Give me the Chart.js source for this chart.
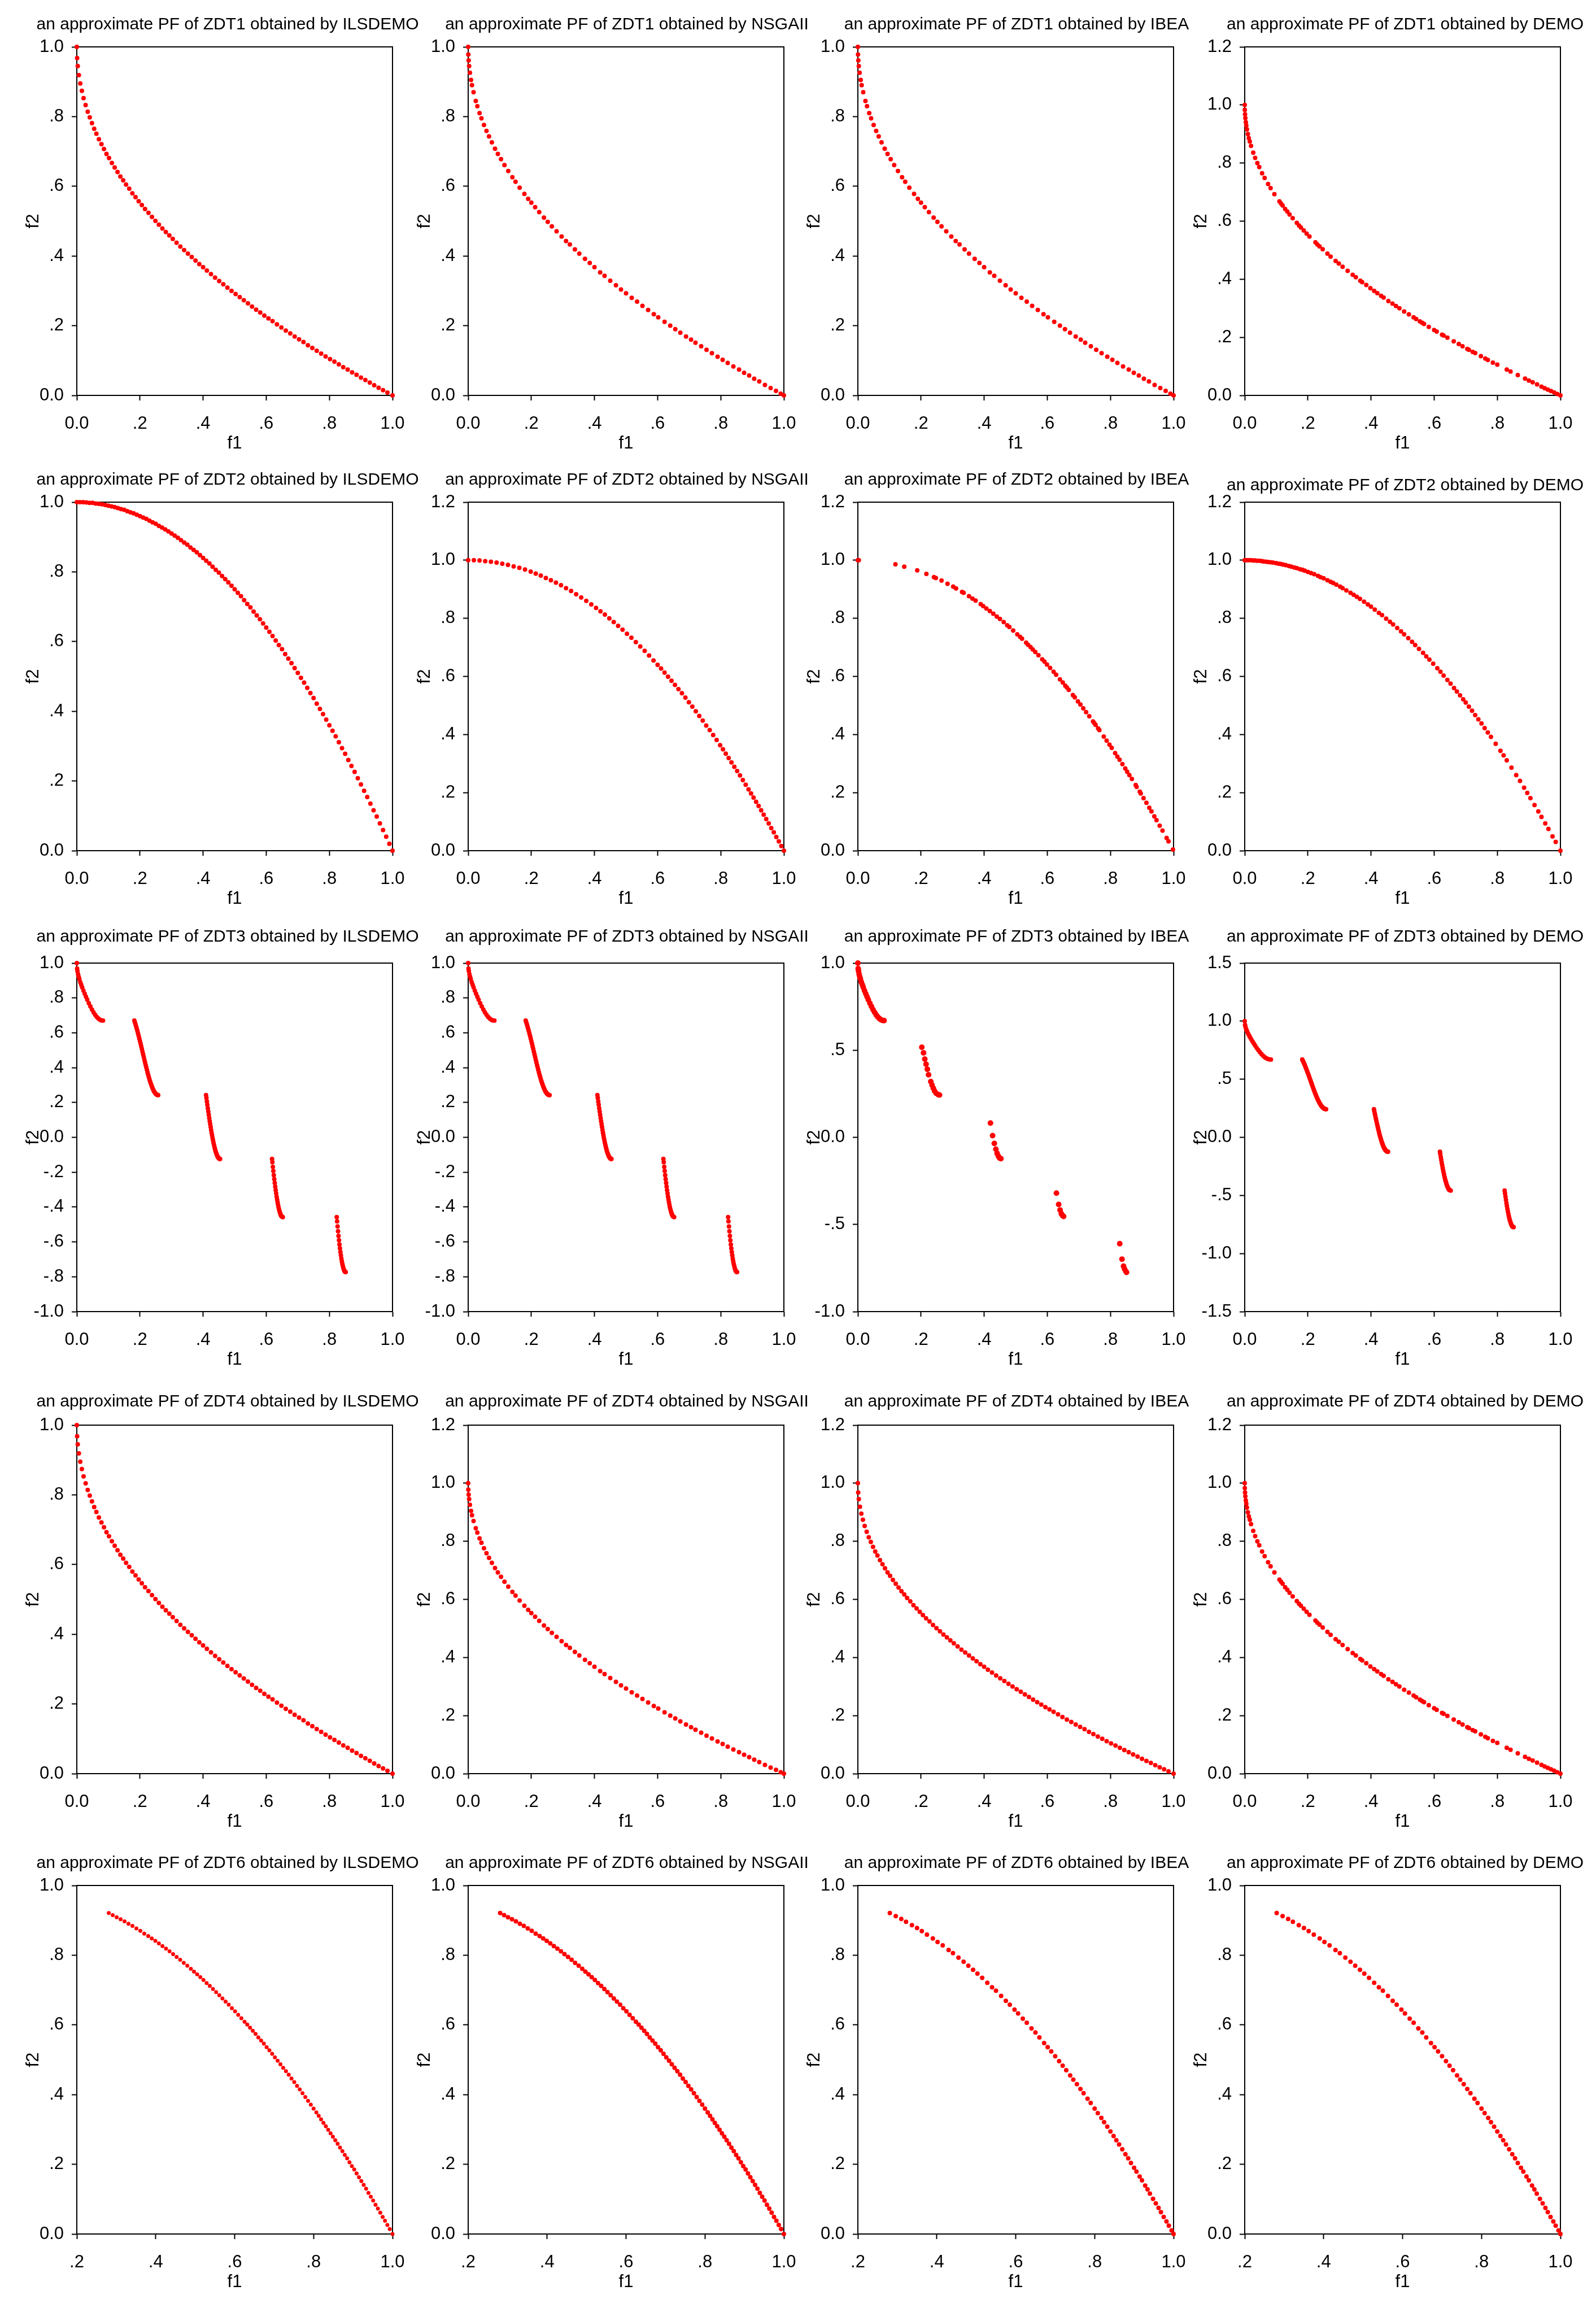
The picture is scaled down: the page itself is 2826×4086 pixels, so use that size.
<!DOCTYPE html>
<html>
<head>
<meta charset="utf-8">
<title>Approximate Pareto fronts of ZDT problems</title>
<script src="https://cdn.jsdelivr.net/npm/chart.js@4.4.1/dist/chart.umd.min.js"></script>
<style>
  body { margin: 0; background: #fff; }
  #page { position: relative; width: 2826px; height: 4086px; background: #fff; }
  #page canvas { position: absolute; }
</style>
</head>
<body>
<div id="page"></div>
<script>
// ---------- data ----------
const algorithms = ["ILSDEMO", "NSGAII", "IBEA", "DEMO"];
const problems = ["ZDT1", "ZDT2", "ZDT3", "ZDT4", "ZDT6"];

// convex front (ZDT1 / ZDT4)
const zdt1IlsF1 = [0, .001, .003, .0065, .011, .016, .0215, .028, .0345, .041, .048, .055, .062, .07, .078, .086, .094, .102, .111, .12, .129, .138, .147, .156, .166, .176, .186, .196, .206, .216, .227, .238, .249, .26, .271, .282, .293, .304, .316, .328, .34, .352, .364, .376, .388, .4, .412, .425, .438, .451, .464, .477, .49, .503, .516, .529, .542, .555, .568, .581, .594, .607, .62, .634, .648, .662, .676, .69, .704, .718, .732, .746, .76, .774, .788, .802, .816, .83, .844, .858, .872, .886, .9, .914, .928, .942, .956, .97, .984, 1];
const zdt1IlsF2 = [1, .968, .945, .919, .895, .874, .853, .833, .814, .798, .781, .765, .751, .735, .721, .707, .693, .681, .667, .654, .641, .628, .617, .605, .593, .580, .569, .557, .546, .535, .524, .512, .501, .490, .479, .469, .459, .449, .438, .427, .417, .407, .397, .387, .377, .368, .358, .348, .338, .328, .319, .309, .300, .291, .282, .273, .264, .255, .246, .238, .229, .221, .213, .204, .195, .186, .178, .169, .161, .153, .144, .136, .128, .120, .112, .104, .097, .089, .081, .074, .066, .059, .051, .044, .037, .029, .022, .015, .008, 0];

const zdt1NsgaF1 = [0, .0005, .0015, .003, .0055, .009, .012, .017, .024, .029, .036, .042, .05, .058, .066, .075, .085, .094, .104, .115, .127, .14, .15, .163, .178, .19, .2, .212, .225, .24, .252, .265, .28, .296, .31, .322, .338, .352, .37, .385, .4, .418, .432, .45, .468, .484, .5, .518, .535, .552, .57, .588, .602, .622, .64, .656, .672, .69, .706, .72, .738, .755, .772, .79, .806, .822, .84, .858, .874, .89, .906, .922, .94, .958, .975, .99, 1];
const zdt1NsgaF2 = [1, .978, .961, .945, .926, .905, .890, .870, .845, .830, .810, .795, .776, .759, .743, .726, .708, .693, .678, .661, .644, .626, .613, .596, .578, .564, .553, .540, .526, .510, .498, .485, .471, .456, .443, .433, .419, .407, .392, .380, .368, .353, .343, .329, .316, .304, .293, .280, .269, .257, .245, .233, .224, .211, .200, .190, .180, .169, .160, .151, .141, .131, .121, .111, .102, .093, .083, .074, .065, .057, .048, .040, .030, .021, .013, .005, 0];

const zdt1DemoF1 = [0, .0003, .001, .002, .0035, .005, .007, .01, .013, .016, .02, .027, .033, .04, .046, .055, .063, .074, .082, .094, .11, .115, .12, .128, .135, .142, .152, .165, .172, .178, .187, .196, .205, .224, .23, .237, .247, .262, .272, .288, .298, .31, .326, .342, .352, .366, .372, .385, .398, .41, .42, .432, .44, .455, .468, .479, .49, .505, .52, .535, .543, .555, .562, .568, .583, .6, .608, .625, .63, .642, .662, .678, .69, .705, .71, .722, .73, .748, .762, .77, .786, .8, .83, .842, .865, .888, .9, .912, .926, .94, .95, .96, .97, .98, .99, 1];
const zdt1DemoF2 = [1, .983, .968, .955, .941, .929, .916, .900, .886, .874, .859, .836, .818, .800, .786, .765, .749, .728, .714, .693, .668, .661, .654, .642, .633, .623, .610, .594, .585, .578, .568, .557, .547, .527, .520, .513, .503, .488, .478, .463, .454, .443, .429, .415, .407, .395, .390, .380, .369, .360, .352, .343, .337, .325, .316, .308, .300, .289, .279, .269, .263, .255, .250, .246, .236, .225, .220, .209, .206, .199, .186, .177, .169, .160, .157, .150, .146, .135, .127, .122, .113, .106, .089, .082, .070, .058, .051, .045, .038, .030, .025, .020, .015, .010, .005, 0];

// concave front (ZDT2)
const zdt2IlsF1 = [0, .01, .02, .03, .04, .05, .06, .07, .08, .09, .1, .11, .12, .13, .14, .15, .16, .17, .18, .19, .2, .21, .22, .23, .24, .25, .26, .27, .28, .29, .3, .31, .32, .33, .34, .35, .36, .37, .38, .39, .4, .41, .42, .43, .44, .45, .46, .47, .48, .49, .5, .51, .52, .53, .54, .55, .56, .57, .58, .59, .6, .61, .62, .63, .64, .65, .66, .67, .68, .69, .7, .71, .72, .73, .74, .75, .76, .77, .78, .79, .8, .81, .82, .83, .84, .85, .86, .87, .88, .89, .9, .91, .92, .93, .94, .95, .96, .97, .98, .99, 1];
const zdt2IlsF2 = [1, 1, 1, .999, .998, .998, .996, .995, .994, .992, .990, .988, .986, .983, .980, .978, .974, .971, .968, .964, .960, .956, .952, .947, .942, .938, .932, .927, .922, .916, .910, .904, .898, .891, .884, .878, .870, .863, .856, .848, .840, .832, .824, .815, .806, .798, .788, .779, .770, .760, .750, .740, .730, .719, .708, .698, .686, .675, .664, .652, .640, .628, .616, .603, .590, .578, .564, .551, .538, .524, .510, .496, .482, .467, .452, .438, .422, .407, .392, .376, .360, .344, .328, .311, .294, .278, .260, .243, .226, .208, .190, .172, .154, .135, .116, .098, .078, .059, .040, .020, 0];

const zdt2NsgaF1 = [0, .018, .036, .054, .072, .09, .108, .126, .144, .162, .18, .198, .214, .23, .246, .262, .278, .294, .31, .326, .342, .358, .374, .39, .405, .419, .433, .447, .461, .475, .489, .503, .517, .531, .545, .559, .573, .587, .6, .611, .622, .633, .644, .655, .666, .677, .688, .699, .71, .721, .732, .743, .754, .765, .776, .787, .798, .807, .816, .825, .834, .843, .852, .861, .87, .879, .888, .896, .904, .912, .92, .928, .936, .944, .952, .96, .968, .976, .984, .992, 1];
const zdt2NsgaF2 = [1, 1, .999, .997, .995, .992, .988, .984, .979, .974, .968, .961, .954, .947, .939, .931, .923, .914, .904, .894, .883, .872, .860, .848, .836, .824, .813, .800, .787, .774, .761, .747, .733, .718, .703, .688, .672, .655, .640, .627, .613, .599, .585, .571, .556, .542, .527, .511, .496, .480, .464, .448, .431, .415, .398, .381, .363, .349, .334, .319, .304, .289, .274, .259, .243, .227, .211, .197, .183, .168, .154, .139, .124, .109, .094, .078, .063, .047, .032, .016, 0];

const zdt2IbeaF1 = [0, .003, .119, .147, .188, .217, .241, .247, .265, .284, .302, .311, .33, .335, .352, .363, .373, .389, .397, .407, .418, .429, .44, .45, .462, .473, .48, .492, .505, .514, .52, .533, .539, .547, .554, .562, .572, .584, .591, .599, .609, .62, .628, .64, .649, .657, .662, .668, .681, .687, .697, .705, .714, .723, .733, .745, .749, .753, .761, .765, .779, .788, .797, .804, .815, .822, .829, .838, .847, .853, .86, .868, .88, .883, .893, .896, .905, .914, .923, .93, .939, .946, .956, .965, .978, .984, .998];
const zdt2IbeaF2 = [1, 1, .986, .978, .965, .953, .942, .939, .930, .919, .909, .903, .891, .888, .876, .868, .861, .849, .842, .834, .825, .816, .806, .798, .787, .776, .770, .758, .745, .736, .730, .716, .709, .701, .693, .684, .673, .659, .651, .641, .629, .616, .606, .590, .579, .568, .562, .554, .536, .528, .514, .503, .490, .477, .463, .445, .439, .433, .421, .415, .393, .379, .365, .354, .336, .324, .313, .298, .283, .272, .260, .247, .226, .220, .203, .197, .181, .165, .148, .135, .118, .105, .086, .069, .044, .032, .004];

const zdt2DemoF1 = [0, .005, .012, .02, .027, .033, .04, .048, .055, .06, .068, .075, .083, .09, .1, .108, .115, .122, .13, .14, .148, .157, .165, .175, .183, .19, .2, .21, .22, .232, .24, .25, .262, .272, .28, .29, .302, .31, .322, .335, .345, .355, .365, .378, .39, .4, .412, .425, .435, .448, .46, .47, .483, .495, .505, .518, .53, .54, .552, .565, .575, .585, .597, .61, .62, .63, .642, .652, .663, .672, .682, .692, .7, .71, .72, .73, .74, .75, .76, .77, .78, .795, .81, .82, .83, .845, .86, .872, .885, .895, .905, .918, .93, .94, .952, .962, .975, .985, 1];
const zdt2DemoF2 = [1, 1, 1, 1, .999, .999, .998, .998, .997, .996, .995, .994, .993, .992, .990, .988, .987, .985, .983, .980, .978, .975, .973, .969, .967, .964, .960, .956, .952, .946, .942, .938, .931, .926, .922, .916, .909, .904, .896, .888, .881, .874, .867, .857, .848, .840, .830, .819, .811, .799, .788, .779, .767, .755, .745, .732, .719, .708, .695, .681, .669, .658, .644, .628, .616, .603, .588, .575, .560, .548, .535, .521, .510, .496, .482, .467, .452, .438, .422, .407, .392, .368, .344, .328, .311, .286, .260, .240, .217, .199, .181, .157, .135, .116, .094, .075, .049, .030, 0];

// disconnected front (ZDT3), five pieces
const zdt3IlsF1 = [0, .001, .002, .004, .006, .008, .011, .014, .017, .021, .025, .029, .033, .038, .043, .048, .053, .058, .063, .068, .073, .078, .083,
  .1822, .184, .186, .188, .19, .192, .194, .196, .198, .2, .202, .204, .206, .208, .21, .212, .214, .216, .218, .22, .222, .224, .226, .228, .23, .232, .234, .236, .238, .24, .242, .244, .246, .248, .25, .252, .254, .256, .2578,
  .4093, .4105, .412, .4135, .415, .4165, .418, .4195, .421, .4225, .424, .4255, .427, .4285, .43, .4315, .433, .4345, .436, .4375, .439, .4405, .442, .4435, .445, .4465, .448, .4495, .451, .4525, .4539,
  .6184, .6195, .621, .6225, .624, .6255, .627, .6285, .63, .6315, .633, .6345, .636, .6375, .639, .6405, .642, .6435, .645, .6465, .648, .6495, .6525,
  .8233, .8245, .826, .8275, .829, .8305, .832, .8335, .835, .8365, .838, .8395, .841, .8425, .844, .8455, .847, .8485, .85, .8518];
const zdt3IlsF2 = [1, .968, .955, .936, .921, .909, .891, .876, .861, .842, .824, .807, .790, .770, .751, .733, .717, .703, .691, .682, .675, .671, .670,
  .670, .660, .648, .636, .623, .610, .596, .582, .567, .553, .538, .523, .508, .492, .477, .462, .446, .431, .416, .402, .387, .373, .360, .347, .334, .322, .311, .301, .291, .282, .274, .266, .260, .255, .250, .247, .244, .243, .242,
  .242, .226, .206, .187, .167, .148, .130, .111, .093, .076, .059, .042, .026, .011, -.004, -.017, -.031, -.043, -.055, -.066, -.076, -.085, -.093, -.100, -.107, -.112, -.116, -.120, -.122, -.124, -.124,
  -.124, -.143, -.169, -.193, -.217, -.240, -.262, -.283, -.303, -.322, -.341, -.357, -.373, -.387, -.401, -.413, -.423, -.432, -.440, -.447, -.452, -.455, -.458,
  -.458, -.482, -.511, -.539, -.566, -.591, -.615, -.637, -.658, -.677, -.695, -.711, -.725, -.737, -.748, -.757, -.764, -.769, -.772, -.773];

const zdt3IbeaF1 = [0, .001, .002, .004, .006, .008, .011, .014, .017, .021, .025, .029, .033, .038, .043, .048, .053, .058, .063, .068, .073, .078, .083,
  .2026, .208, .212, .216, .22, .224, .231, .235, .239, .243, .248, .255, .2586,
  .42, .4268, .4323, .4371, .441, .445, .449, .453,
  .629, .636, .6405, .6445, .6485, .6517,
  .8295, .8367, .8415, .8447, .8487, .851];
const zdt3IbeaF2 = [1, .968, .955, .936, .921, .909, .891, .876, .861, .842, .824, .807, .790, .770, .751, .733, .717, .703, .691, .682, .675, .671, .670,
  .517, .485, .449, .420, .391, .359, .320, .300, .282, .266, .253, .245, .243,
  .082, .010, -.035, -.068, -.092, -.108, -.119, -.122,
  -.320, -.385, -.417, -.438, -.449, -.454,
  -.610, -.699, -.739, -.755, -.768, -.775];

// non-uniform concave front (ZDT6)
const zdt6IlsF1 = [.281, .291, .301, .311, .321, .331, .341, .351, .361, .371, .381, .39, .399, .408, .417, .426, .435, .444, .453, .462, .471, .48, .489, .497, .505, .513, .521, .529, .537, .545, .553, .561, .569, .577, .585, .593, .601, .609, .617, .625, .632, .639, .646, .653, .66, .667, .674, .681, .688, .695, .702, .709, .716, .723, .73, .737, .744, .751, .758, .765, .772, .779, .786, .793, .8, .807, .813, .819, .825, .831, .837, .843, .849, .855, .861, .867, .873, .879, .885, .891, .897, .903, .909, .915, .921, .927, .933, .939, .945, .951, .957, .963, .969, .975, .981, .987, .993, 1];
const zdt6IlsF2 = [.921, .915, .909, .903, .897, .890, .884, .877, .870, .862, .855, .848, .841, .834, .826, .819, .811, .803, .795, .787, .778, .770, .761, .753, .745, .737, .729, .720, .712, .703, .694, .685, .676, .667, .658, .648, .639, .629, .619, .609, .601, .592, .583, .574, .564, .555, .546, .536, .527, .517, .507, .497, .487, .477, .467, .457, .446, .436, .425, .415, .404, .393, .382, .371, .360, .349, .339, .329, .319, .309, .299, .289, .279, .269, .259, .248, .238, .227, .217, .206, .195, .185, .174, .163, .152, .141, .130, .118, .107, .096, .084, .073, .061, .049, .038, .026, .014, 0];

const zdt6IbeaF1 = [.281, .296, .31, .322, .337, .35, .362, .375, .39, .402, .415, .43, .441, .455, .468, .48, .492, .503, .515, .528, .54, .55, .563, .575, .585, .597, .606, .618, .628, .64, .65, .66, .672, .681, .69, .7, .71, .719, .728, .738, .746, .755, .764, .772, .782, .79, .8, .808, .817, .824, .832, .84, .848, .855, .862, .87, .878, .885, .892, .9, .906, .914, .92, .928, .934, .94, .948, .955, .962, .968, .975, .982, .988, .995, 1];
const zdt6IbeaF2 = [.921, .912, .904, .896, .886, .878, .869, .859, .848, .838, .828, .815, .806, .793, .781, .770, .758, .747, .735, .721, .708, .698, .683, .669, .658, .644, .633, .618, .606, .590, .578, .564, .548, .536, .524, .510, .496, .483, .470, .455, .443, .430, .416, .404, .388, .376, .360, .347, .333, .321, .308, .294, .281, .269, .257, .243, .229, .217, .204, .190, .179, .165, .154, .139, .128, .116, .101, .088, .075, .063, .049, .036, .024, .010, 0];

// ---------- tick values and labels ----------
const ticksUnit = [0, .2, .4, .6, .8, 1];
const labelsUnit = ["0.0", ".2", ".4", ".6", ".8", "1.0"];
const ticksTall = [0, .2, .4, .6, .8, 1, 1.2];
const labelsTall = ["0.0", ".2", ".4", ".6", ".8", "1.0", "1.2"];
const ticksSigned = [-1, -.8, -.6, -.4, -.2, 0, .2, .4, .6, .8, 1];
const labelsSigned = ["-1.0", "-.8", "-.6", "-.4", "-.2", "0.0", ".2", ".4", ".6", ".8", "1.0"];
const ticksHalf = [-1, -.5, 0, .5, 1];
const labelsHalf = ["-1.0", "-.5", "0.0", ".5", "1.0"];
const ticksWide = [-1.5, -1, -.5, 0, .5, 1, 1.5];
const labelsWide = ["-1.5", "-1.0", "-.5", "0.0", ".5", "1.0", "1.5"];
const ticksZdt6X = [.2, .4, .6, .8, 1];
const labelsZdt6X = [".2", ".4", ".6", ".8", "1.0"];

const tickSets = {
  unit: { values: ticksUnit, labels: labelsUnit },
  tall: { values: ticksTall, labels: labelsTall },
  signed: { values: ticksSigned, labels: labelsSigned },
  half: { values: ticksHalf, labels: labelsHalf },
  wide: { values: ticksWide, labels: labelsWide },
  zdt6x: { values: ticksZdt6X, labels: labelsZdt6X }
};

// one entry per panel, row by row
const panels = [
  { f1: zdt1IlsF1, f2: zdt1IlsF2, x: "unit", y: "unit" },
  { f1: zdt1NsgaF1, f2: zdt1NsgaF2, x: "unit", y: "unit" },
  { f1: zdt1NsgaF1, f2: zdt1NsgaF2, x: "unit", y: "unit" },
  { f1: zdt1DemoF1, f2: zdt1DemoF2, x: "unit", y: "tall" },

  { f1: zdt2IlsF1, f2: zdt2IlsF2, x: "unit", y: "unit" },
  { f1: zdt2NsgaF1, f2: zdt2NsgaF2, x: "unit", y: "tall" },
  { f1: zdt2IbeaF1, f2: zdt2IbeaF2, x: "unit", y: "tall" },
  { f1: zdt2DemoF1, f2: zdt2DemoF2, x: "unit", y: "tall" },

  { f1: zdt3IlsF1, f2: zdt3IlsF2, x: "unit", y: "signed" },
  { f1: zdt3IlsF1, f2: zdt3IlsF2, x: "unit", y: "signed" },
  { f1: zdt3IbeaF1, f2: zdt3IbeaF2, x: "unit", y: "half", r: 5 },
  { f1: zdt3IlsF1, f2: zdt3IlsF2, x: "unit", y: "wide" },

  { f1: zdt1IlsF1, f2: zdt1IlsF2, x: "unit", y: "unit" },
  { f1: zdt1NsgaF1, f2: zdt1NsgaF2, x: "unit", y: "tall" },
  { f1: zdt1IlsF1, f2: zdt1IlsF2, x: "unit", y: "tall" },
  { f1: zdt1DemoF1, f2: zdt1DemoF2, x: "unit", y: "tall" },

  { f1: zdt6IlsF1, f2: zdt6IlsF2, x: "zdt6x", y: "unit", r: 3.5 },
  { f1: zdt6IlsF1, f2: zdt6IlsF2, x: "zdt6x", y: "unit" },
  { f1: zdt6IbeaF1, f2: zdt6IbeaF2, x: "zdt6x", y: "unit" },
  { f1: zdt6IbeaF1, f2: zdt6IbeaF2, x: "zdt6x", y: "unit" }
];

// ---------- layout ----------
const plotLefts = [136, 829, 1519, 2204];
const plotTops = [83, 889, 1705, 2523, 3338];
const PLOT_W = 559, PLOT_H = 617;
const AXIS_W = 136, AXIS_H = 117, PAD_TOP = 83, PAD_RIGHT = 60;
const titleDx = [267, 281, 281, 284];      // heading centre from plot left
const titleDy = [39, 39, 46, 41, 39];      // heading centre above plot top

Chart.defaults.font.family = '"Liberation Sans", Arial, Helvetica, sans-serif';
Chart.defaults.font.size = 31;
Chart.defaults.color = '#000';

const framePlugin = {
  id: 'frame',
  beforeDatasetsDraw(chart) {
    const { ctx, chartArea: a } = chart;
    ctx.save();
    ctx.strokeStyle = '#000';
    ctx.lineWidth = 2;
    ctx.strokeRect(a.left, a.top, a.right - a.left, a.bottom - a.top);
    ctx.restore();
  }
};

function headingPlugin(text, dx, dy) {
  return {
    id: 'heading',
    afterDraw(chart) {
      const { ctx, chartArea: a } = chart;
      ctx.save();
      ctx.font = '30px "Liberation Sans", Arial, Helvetica, sans-serif';
      ctx.fillStyle = '#000';
      ctx.textAlign = 'center';
      ctx.textBaseline = 'middle';
      ctx.fillText(text, a.left + dx, a.top - dy);
      ctx.restore();
    }
  };
}

function makeAxis(set, title, pos) {
  const left = pos === 'left';
  return {
    type: 'linear',
    position: pos,
    min: set.values[0],
    max: set.values[set.values.length - 1],
    afterBuildTicks: axis => { axis.ticks = set.values.map(v => ({ value: v })); },
    afterFit: axis => { if (left) axis.width = AXIS_W; else axis.height = AXIS_H; },
    ticks: {
      callback: (v, i) => set.labels[i],
      color: '#000',
      padding: left ? 14 : 23,
      autoSkip: false,
      maxRotation: 0
    },
    grid: { drawOnChartArea: false, drawTicks: true, tickLength: 9, tickWidth: 2, color: '#000' },
    border: { display: true, color: '#000', width: 2 },
    title: { display: true, text: title, color: '#000', padding: left ? { top: 41 } : { bottom: 13 } }
  };
}

const page = document.getElementById('page');

panels.forEach((p, i) => {
  const row = Math.floor(i / 4), col = i % 4;
  const canvas = document.createElement('canvas');
  canvas.width = AXIS_W + PLOT_W + PAD_RIGHT;
  canvas.height = PAD_TOP + PLOT_H + AXIS_H;
  canvas.style.left = (plotLefts[col] - AXIS_W) + 'px';
  canvas.style.top = (plotTops[row] - PAD_TOP) + 'px';
  page.appendChild(canvas);

  let dy = titleDy[row];
  if (row === 1 && col === 3) dy = 29;
  const heading = 'an approximate PF of ' + problems[row] + ' obtained by ' + algorithms[col];

  new Chart(canvas, {
    type: 'scatter',
    data: {
      datasets: [{
        data: p.f1.map((v, k) => ({ x: v, y: p.f2[k] })),
        backgroundColor: '#ff0000',
        borderWidth: 0,
        pointRadius: p.r || 4,
        pointHoverRadius: p.r || 4,
        clip: false
      }]
    },
    options: {
      responsive: false,
      animation: false,
      devicePixelRatio: 1,
      layout: { padding: { top: PAD_TOP, right: PAD_RIGHT, left: 0, bottom: 0 } },
      plugins: { legend: { display: false }, tooltip: { enabled: false } },
      scales: {
        x: makeAxis(tickSets[p.x], 'f1', 'bottom'),
        y: makeAxis(tickSets[p.y], 'f2', 'left')
      }
    },
    plugins: [framePlugin, headingPlugin(heading, titleDx[col], dy)]
  });
});
</script>
</body>
</html>
